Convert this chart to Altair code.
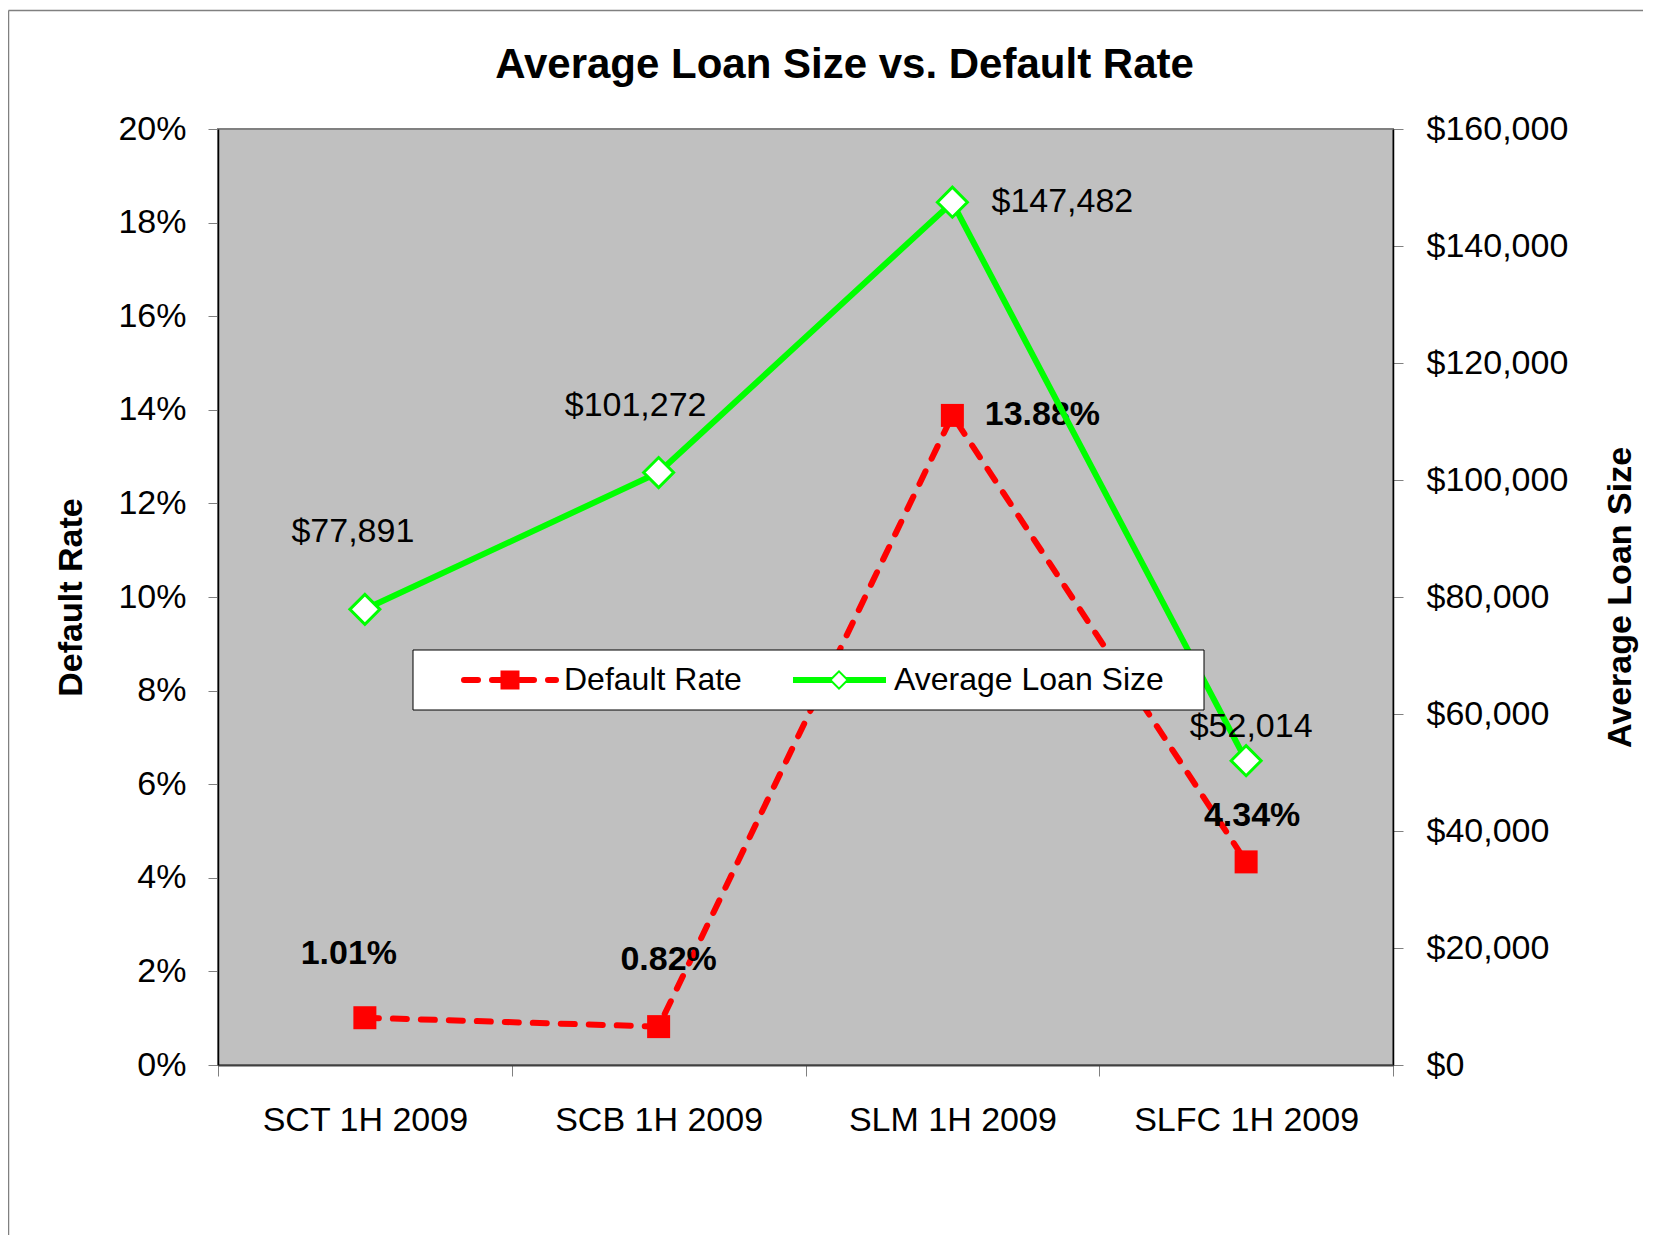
import altair as alt
import pandas as pd

# ---- data ----
categories = ["SCT 1H 2009", "SCB 1H 2009", "SLM 1H 2009", "SLFC 1H 2009"]
default_rate = [0.0101, 0.0082, 0.1388, 0.0434]
avg_loan = [77891, 101272, 147482, 52014]
rate_ticks = [0, 0.02, 0.04, 0.06, 0.08, 0.10, 0.12, 0.14, 0.16, 0.18, 0.20]
loan_ticks = [0, 20000, 40000, 60000, 80000, 100000, 120000, 140000, 160000]
series_names = ["Default Rate", "Average Loan Size"]

df = pd.DataFrame({"cat": categories, "rate": default_rate, "loan": avg_loan})

# ---- styling ----
FONT = "Liberation Sans"
W, H = 1175, 936
RED = "#ff0000"
GREEN = "#00ff00"
rate_label_offsets = [(-16, -64), (10, -67), (90, 0), (6, -46)]
loan_label_offsets = [(-12, -77), (-23, -67), (110, 0), (5, -34)]

x_enc = alt.X(
    "cat:N", sort=categories, bandPosition=0.5,
    scale=alt.Scale(type="band", paddingInner=0, paddingOuter=0),
    axis=alt.Axis(title=None, labelAngle=0, tickBand="extent", tickSize=11,
                  tickColor="#808080", domainColor="#404040", domainWidth=2,
                  labelPadding=27, labelFontSize=34, labelColor="black",
                  labelFont=FONT, labelLimit=0, grid=False),
)

y_rate = alt.Y(
    "rate:Q", scale=alt.Scale(domain=[0, 0.2], nice=False),
    axis=alt.Axis(orient="left", values=rate_ticks, format=".0%", grid=False,
                  tickSize=10, tickColor="#808080", domainColor="black",
                  domainWidth=1.5, labelPadding=22, labelFontSize=34,
                  labelFont=FONT, labelColor="black", labelOverlap=False,
                  title="Default Rate", titleFont=FONT, titleFontSize=34,
                  titleFontWeight="bold", titleColor="black", titleAngle=270,
                  titleX=-147, titleY=468, titleAlign="center",
                  titleBaseline="middle"),
)

y_loan = alt.Y(
    "loan:Q", scale=alt.Scale(domain=[0, 160000], nice=False),
    axis=alt.Axis(orient="right", values=loan_ticks, format="$,.0f", grid=False,
                  tickSize=10, tickColor="#808080", domainColor="black",
                  domainWidth=1.5, labelPadding=23, labelFontSize=34,
                  labelFont=FONT, labelColor="black", labelOverlap=False,
                  title="Average Loan Size", titleFont=FONT, titleFontSize=34,
                  titleFontWeight="bold", titleColor="black", titleAngle=270,
                  titleX=227, titleY=468, titleAlign="center",
                  titleBaseline="middle"),
)

# ---- red series ----
red_line = alt.Chart(df).mark_line(
    color=RED, strokeWidth=6, strokeDash=[14, 14], strokeCap="round"
).encode(x=x_enc, y=y_rate)
red_pts = alt.Chart(df).mark_point(
    shape="square", filled=True, size=529, color=RED, opacity=1
).encode(x=x_enc, y=y_rate)
red_labels = [
    alt.Chart(df).transform_filter(alt.datum.cat == c).mark_text(
        dx=dx, dy=dy, fontSize=34, fontWeight="bold", font=FONT, color="black",
        align="center", baseline="middle"
    ).encode(x=x_enc, y=y_rate, text=alt.Text("rate:Q", format=".2%"))
    for c, (dx, dy) in zip(categories, rate_label_offsets)
]

# ---- green series ----
green_line = alt.Chart(df).mark_line(color=GREEN, strokeWidth=6).encode(x=x_enc, y=y_loan)
green_pts = alt.Chart(df).mark_point(
    shape="diamond", filled=True, fill="white", stroke=GREEN, strokeWidth=3,
    size=900, opacity=1
).encode(x=x_enc, y=y_loan)
green_labels = [
    alt.Chart(df).transform_filter(alt.datum.cat == c).mark_text(
        dx=dx, dy=dy, fontSize=34, font=FONT, color="black",
        align="center", baseline="middle"
    ).encode(x=x_enc, y=y_loan, text=alt.Text("loan:Q", format="$,.0f"))
    for c, (dx, dy) in zip(categories, loan_label_offsets)
]

# ---- legend box (decoration) ----
one = alt.Data(values=[{"k": 0}])
leg_box = alt.Chart(one).mark_rect(fill="white", stroke="black", strokeWidth=1).encode(
    x=alt.value(195), x2=alt.value(986), y=alt.value(521), y2=alt.value(581))
leg_red_line = alt.Chart(one).mark_rule(
    color=RED, strokeWidth=6, strokeDash=[14, 14], strokeCap="round"
).encode(x=alt.value(246), x2=alt.value(338), y=alt.value(551))
leg_red_pt = alt.Chart(one).mark_point(
    shape="square", filled=True, size=361, color=RED, opacity=1
).encode(x=alt.value(292), y=alt.value(551))
leg_red_txt = alt.Chart(one).mark_text(
    text=series_names[0], align="left", baseline="middle", fontSize=32,
    font=FONT, color="black"
).encode(x=alt.value(346), y=alt.value(551))
leg_green_line = alt.Chart(one).mark_rule(color=GREEN, strokeWidth=6).encode(
    x=alt.value(575), x2=alt.value(668), y=alt.value(551))
leg_green_pt = alt.Chart(one).mark_point(
    shape="diamond", filled=True, fill="white", stroke=GREEN, strokeWidth=2,
    size=300, opacity=1
).encode(x=alt.value(621), y=alt.value(551))
leg_green_txt = alt.Chart(one).mark_text(
    text=series_names[1], align="left", baseline="middle", fontSize=32,
    font=FONT, color="black"
).encode(x=alt.value(676), y=alt.value(551))

# ---- outer chart-area frame (decoration) ----
frame_top = alt.Chart(one).mark_rule(color="#808080", strokeWidth=1.5).encode(
    x=alt.value(-209.5), x2=alt.value(1460), y=alt.value(-118.5))
frame_left = alt.Chart(one).mark_rule(color="#808080", strokeWidth=1.5).encode(
    x=alt.value(-209.5), y=alt.value(-118.5), y2=alt.value(1130))

red_group = alt.layer(red_line, red_pts, *red_labels)
green_group = alt.layer(
    green_line, green_pts, *green_labels,
    leg_box, leg_red_line, leg_red_pt, leg_red_txt,
    leg_green_line, leg_green_pt, leg_green_txt,
    frame_top, frame_left,
)

chart = alt.layer(red_group, green_group).resolve_scale(y="independent").properties(
    width=W, height=H,
    title=alt.Title("Average Loan Size vs. Default Rate", fontSize=42,
                    fontWeight="bold", font=FONT, color="black", anchor="middle",
                    frame="group", dx=39, offset=0, dy=110, baseline="alphabetic"),
    padding={"left": 210, "top": 121, "right": 250, "bottom": 170},
    autosize=alt.AutoSizeParams(type="none"),
    background="white",
).configure_view(fill="#c0c0c0", stroke="#808080", strokeWidth=2)

chart.save("out.html", embed_options={"renderer": "svg", "actions": False})
